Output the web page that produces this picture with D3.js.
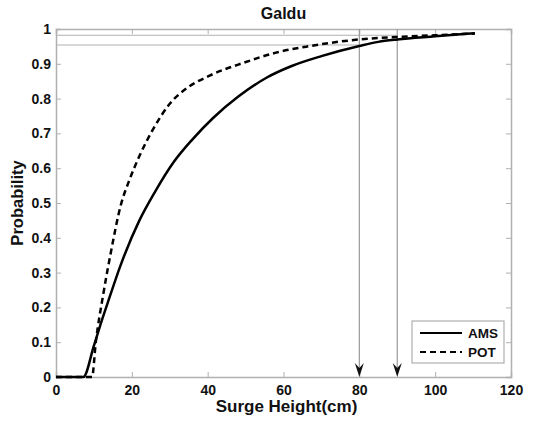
<!DOCTYPE html>
<html lang="en">
<head>
    <meta charset="UTF-8">
    <title>Galdu</title>
    <script src="https://d3js.org/d3.v7.min.js"></script>
    <style>
        body { margin: 0; background: #fff; }
        text { font-family: Arial, "Liberation Sans", sans-serif; font-weight: bold; fill: #111; }
    </style>
</head>
<body>
<div id="grafico"></div>
<script>
    // dados
    const amsX = [0, 7.2, 10, 12, 14, 17, 22, 26, 31, 36, 41.5, 48, 55.5, 62, 70, 80, 85, 90, 100, 110.5];
    const amsY = [0, 0, 0.09, 0.16, 0.225, 0.32, 0.45, 0.53, 0.617, 0.683, 0.745, 0.805, 0.86, 0.893, 0.922, 0.951, 0.963, 0.97, 0.979, 0.988];
    const potX = [0, 9.5, 10.5, 12.5, 14.5, 17, 19.5, 22, 25.5, 30, 34.5, 40.5, 49.5, 58, 67, 80, 90, 100, 110.5];
    const potY = [0, 0, 0.1, 0.24, 0.36, 0.49, 0.57, 0.635, 0.71, 0.785, 0.83, 0.866, 0.903, 0.932, 0.951, 0.97, 0.977, 0.982, 0.987];
    const xTicks = [0, 20, 40, 60, 80, 100, 120];
    const yTicks = [0, 0.1, 0.2, 0.3, 0.4, 0.5, 0.6, 0.7, 0.8, 0.9, 1];
    const marcaX = [80, 90];        // linhas verticais com setas
    const marcaY = [0.954, 0.982];  // linhas horizontais
    const series = ["AMS", "POT"];

    const width = 533, height = 421;
    const margin = { top: 29, right: 22, bottom: 44, left: 56 };

    const svg = d3.select("#grafico").append("svg")
        .attr("width", width)
        .attr("height", height);

    const x = d3.scaleLinear().domain([0, 120]).range([margin.left, width - margin.right]);
    const y = d3.scaleLinear().domain([0, 1]).range([height - margin.bottom, margin.top]);

    const cinza = "#b0b0b0";

    // eixos
    const gx = svg.append("g")
        .attr("transform", `translate(0,${y(0)})`)
        .call(d3.axisBottom(x).tickValues(xTicks).tickSize(-5).tickPadding(8).tickFormat(d3.format("d")));
    const gy = svg.append("g")
        .attr("transform", `translate(${x(0)},0)`)
        .call(d3.axisLeft(y).tickValues(yTicks).tickSize(-5).tickPadding(5).tickFormat(d => d === 0 || d === 1 ? d : d3.format(".1f")(d)));
    svg.append("g")
        .attr("transform", `translate(0,${y(1)})`)
        .call(d3.axisTop(x).tickValues(xTicks).tickSize(-5).tickFormat(""));
    svg.append("g")
        .attr("transform", `translate(${x(120)},0)`)
        .call(d3.axisRight(y).tickValues(yTicks).tickSize(-5).tickFormat(""));

    svg.selectAll(".domain").attr("stroke", cinza).attr("stroke-width", 1.5);
    svg.selectAll(".tick line").attr("stroke", cinza);
    gx.selectAll("text").style("font-size", "14px").attr("fill", "#111");
    gy.selectAll("text").style("font-size", "14px").attr("fill", "#111");

    // linhas de referência
    svg.selectAll(".hline")
        .data(marcaY)
        .enter().append("line")
        .attr("x1", x(0)).attr("x2", (d, i) => x(marcaX[i]))
        .attr("y1", d => y(d)).attr("y2", d => y(d))
        .attr("stroke", cinza).attr("stroke-width", 1.2);

    svg.selectAll(".vline")
        .data(marcaX)
        .enter().append("line")
        .attr("x1", d => x(d)).attr("x2", d => x(d))
        .attr("y1", y(1)).attr("y2", y(0) - 6)
        .attr("stroke", "#999").attr("stroke-width", 1.2);

    // setas
    svg.selectAll(".seta")
        .data(marcaX)
        .enter().append("path")
        .attr("d", d => {
            const cx = x(d), cy = y(0);
            return `M${cx},${cy} L${cx - 4.5},${cy - 14} L${cx},${cy - 9} L${cx + 4.5},${cy - 14} Z`;
        })
        .attr("fill", "#111");

    // curvas
    const linha = d3.line().x(d => x(d[0])).y(d => y(d[1])).curve(d3.curveMonotoneX);
    const ams = amsX.map((v, i) => [v, amsY[i]]);
    const pot = potX.map((v, i) => [v, potY[i]]);

    svg.append("path").datum(ams)
        .attr("d", linha).attr("fill", "none")
        .attr("stroke", "#000").attr("stroke-width", 2.5);
    svg.append("path").datum(pot)
        .attr("d", linha).attr("fill", "none")
        .attr("stroke", "#000").attr("stroke-width", 2.5)
        .attr("stroke-dasharray", "6,4");

    // título e rótulos
    svg.append("text")
        .attr("x", (x(0) + x(120)) / 2).attr("y", 18.5)
        .attr("text-anchor", "middle").style("font-size", "16px")
        .text("Galdu");
    svg.append("text")
        .attr("x", (x(0) + x(120)) / 2 + 3).attr("y", 412)
        .attr("text-anchor", "middle").style("font-size", "17px")
        .text("Surge Height(cm)");
    svg.append("text")
        .attr("transform", `translate(22.5,${(y(0) + y(1)) / 2}) rotate(-90)`)
        .attr("text-anchor", "middle").style("font-size", "16.5px")
        .text("Probability");

    // legenda
    const leg = svg.append("g").attr("transform", "translate(412,321)");
    leg.append("rect")
        .attr("width", 92).attr("height", 42)
        .attr("fill", "#fff").attr("stroke", cinza).attr("stroke-width", 1.2);
    series.forEach((s, i) => {
        leg.append("line")
            .attr("x1", 8).attr("x2", 50)
            .attr("y1", 12 + i * 19).attr("y2", 12 + i * 19)
            .attr("stroke", "#000").attr("stroke-width", 2)
            .attr("stroke-dasharray", i === 1 ? "6,4" : null);
        leg.append("text")
            .attr("x", 56).attr("y", 17 + i * 19)
            .style("font-size", "13.5px")
            .text(s);
    });
</script>
</body>
</html>
